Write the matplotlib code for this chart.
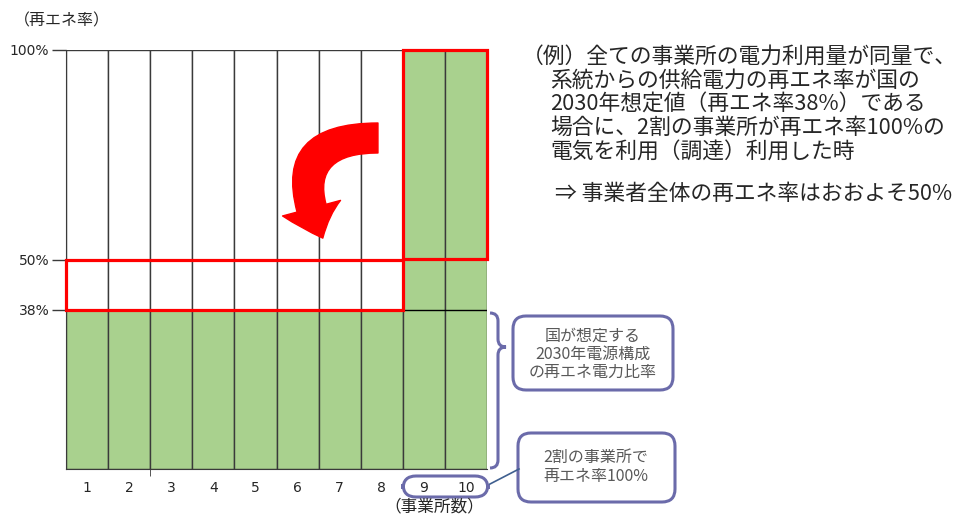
import matplotlib
matplotlib.use('Agg')
import matplotlib.pyplot as plt
from matplotlib.patches import Rectangle, FancyBboxPatch, FancyArrowPatch, PathPatch
from matplotlib.path import Path
from matplotlib.transforms import IdentityTransform

plt.rcParams['font.family'] = ['Noto Sans CJK JP', 'DejaVu Sans']

# data
sites = list(range(1, 11))
base_share = [38, 38, 38, 38, 38, 38, 38, 38, 100, 100]
ytick_vals = [38, 50, 100]
ytick_labels = ['38%', '50%', '100%']
note_lines = ['（例）全ての事業所の電力利用量が同量で、',
              '系統からの供給電力の再エネ率が国の',
              '2030年想定値（再エネ率38%）である',
              '場合に、2割の事業所が再エネ率100%の',
              '電気を利用（調達）利用した時']
note_result = '⇒ 事業者全体の再エネ率はおおよそ50%'
box1_text = '国が想定する\n2030年電源構成\nの再エネ電力比率'
box2_text = '2割の事業所で\n再エネ率100%'

W, H = 958, 515
green = '#A9D18E'
edge = '#3a3a3a'
red = '#FF0000'
purple = '#6B6BAA'
txt = '#262626'

fig = plt.figure(figsize=(W / 100, H / 100), dpi=100)
ax = fig.add_axes([66 / W, 1 - 469 / H, 421 / W, 419 / H])

x = [s - 0.5 for s in sites]
ax.bar(x, [100] * len(sites), width=1, color='white', edgecolor=edge, linewidth=1, zorder=1)
ax.bar(x, base_share, width=1, color=green, edgecolor=edge, linewidth=1, zorder=2)
ax.hlines(38, 8, 10, color='black', linewidth=1, zorder=3)

ax.set_xlim(0, 10)
ax.set_ylim(0, 100)
ax.set_xticks(x)
ax.set_xticklabels([str(s) for s in sites], family='DejaVu Sans', fontsize=10, color=txt)
ax.set_xticks([2], minor=True)
ax.tick_params(axis='x', which='major', length=0, pad=9)
ax.tick_params(axis='x', which='minor', length=5, color=edge)
ax.set_yticks(ytick_vals)
ax.set_yticklabels(ytick_labels, family='DejaVu Sans', fontsize=10, color=txt)
ax.tick_params(axis='y', length=10, width=1, color=edge, pad=2)
for sp in ['top', 'right']:
    ax.spines[sp].set_visible(False)
for sp in ['left', 'bottom']:
    ax.spines[sp].set_color(edge)

# red highlight boxes
ax.add_patch(Rectangle((0, 38), 8, 12, fill=False, edgecolor=red, linewidth=2.3, zorder=5, clip_on=False))
ax.add_patch(Rectangle((8, 50), 2, 50, fill=False, edgecolor=red, linewidth=2.3, zorder=5, clip_on=False))

# curved arrow
arr = FancyArrowPatch((7.41, 79), (6.1, 55.1), connectionstyle='angle3,angleA=0,angleB=115',
                      arrowstyle='simple,head_length=3.2,head_width=6,tail_width=3',
                      mutation_scale=7.2, color=red, shrinkA=0, shrinkB=0, zorder=6, clip_on=False)
ax.add_patch(arr)


def px(xi, yi):
    return (xi, H - yi)


ident = IdentityTransform()

# brace
bverts = [px(490, 313), px(498, 313), px(498, 321), px(498, 339), px(498, 347), px(506, 347),
          px(498, 347), px(498, 355), px(498, 460), px(498, 468), px(490, 468)]
bcodes = [Path.MOVETO, Path.CURVE3, Path.CURVE3, Path.LINETO, Path.CURVE3, Path.CURVE3,
          Path.CURVE3, Path.CURVE3, Path.LINETO, Path.CURVE3, Path.CURVE3]
fig.patches.append(PathPatch(Path(bverts, bcodes), fill=False, edgecolor=purple, linewidth=2.2,
                             transform=ident, figure=fig))

# rounded boxes
for (x0, y0, x1, y1) in [(513, 316, 673, 390), (518, 433, 675, 502), (403, 476, 488, 497)]:
    fig.patches.append(FancyBboxPatch(px(x0, y1), x1 - x0, y1 - y0,
                                      boxstyle='round,pad=0,rounding_size=13',
                                      fill=False, edgecolor=purple, linewidth=2.2,
                                      transform=ident, figure=fig))
fig.lines.append(plt.Line2D([490 / W, 519 / W], [1 - 484 / H, 1 - 469 / H], color='#3F5F8F',
                            linewidth=1.2, transform=fig.transFigure))

fig.text(593 / W, 1 - 354 / H, box1_text, ha='center', va='center', fontsize=11.5,
         color='#595959', linespacing=1.1)
fig.text(596 / W, 1 - 467 / H, box2_text, ha='center', va='center', fontsize=11.5,
         color='#595959', linespacing=1.1)

# axis titles
fig.text(14 / W, 1 - 21 / H, '（再エネ率）', ha='left', va='center', fontsize=11.5, color=txt)
fig.text(434 / W, 1 - 507 / H, '（事業所数）', ha='center', va='center', fontsize=12, color=txt)

# explanatory note
fig.text(522 / W, 1 - 57 / H, note_lines[0], ha='left', va='center', fontsize=15.7, color=txt)
for i, line in enumerate(note_lines[1:]):
    fig.text(550 / W, 1 - (81 + 23.5 * i) / H, line, ha='left', va='center', fontsize=15.7, color=txt)
fig.text(555 / W, 1 - 194 / H, note_result, ha='left', va='center', fontsize=15.7, color=txt)

fig.savefig('out.png', dpi=100)
